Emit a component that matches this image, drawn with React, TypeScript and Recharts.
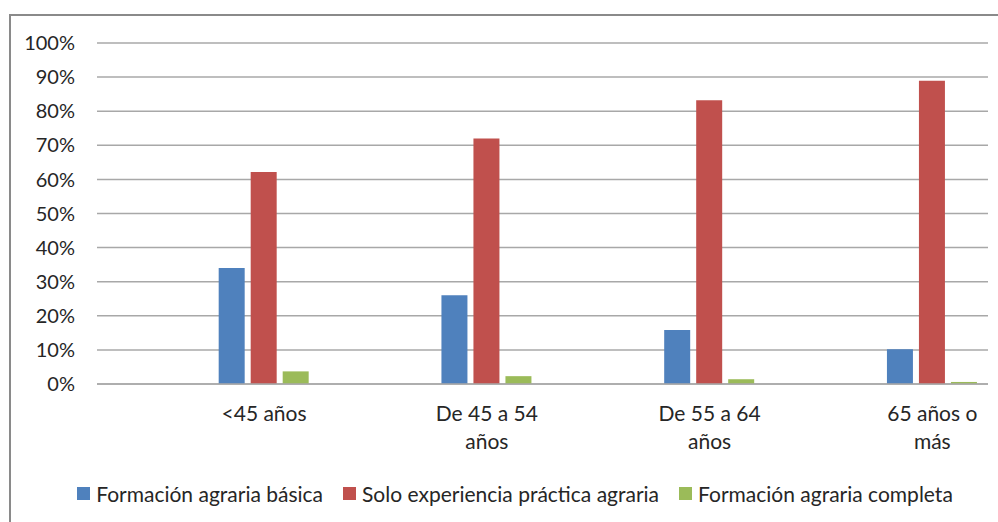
import React from 'react';
import { BarChart, Bar, XAxis, YAxis, CartesianGrid, Legend } from 'recharts';

const categories = ['<45 años', 'De 45 a 54 años', 'De 55 a 64 años', '65 años o más'];
const categoryLines = [['<45 años'], ['De 45 a 54', 'años'], ['De 55 a 64', 'años'], ['65 años o', 'más']];
const basica = [34, 26, 15.8, 10.2];
const solo = [62.2, 72, 83.2, 88.9];
const completa = [3.7, 2.3, 1.4, 0.6];
const yTicks = [0, 10, 20, 30, 40, 50, 60, 70, 80, 90, 100];

const seriesKeys = ['basica', 'solo', 'completa'];
const seriesNames = ['Formación agraria básica', 'Solo experiencia práctica agraria', 'Formación agraria completa'];
const seriesColors = ['#4F81BD', '#C0504D', '#9BBB59'];

const data = categories.map((c, i) => ({
  idx: i,
  cat: c,
  basica: basica[i],
  solo: solo[i],
  completa: completa[i],
}));

const FONT = 'Lato, "Open Sans", sans-serif';
const TEXT_COLOR = '#262626';

const CatTick = (props: any) => {
  const { x, y, payload } = props;
  const lines = categoryLines[payload.value] ?? [];
  return (
    <text
      x={x}
      y={y + 29}
      textAnchor="middle"
      fontSize={21}
      fontFamily={FONT}
      fill={TEXT_COLOR}
    >
      {lines.map((l: string, i: number) => (
        <tspan key={i} x={x} dy={i === 0 ? 0 : 28}>
          {l}
        </tspan>
      ))}
    </text>
  );
};

const LegendContent = () => (
  <div
    style={{
      display: 'flex',
      justifyContent: 'center',
      alignItems: 'center',
      height: 30,
      fontFamily: FONT,
      fontSize: 21,
      color: TEXT_COLOR,
      whiteSpace: 'nowrap',
    }}
  >
    {seriesNames.map((n, i) => (
      <div key={i} style={{ display: 'flex', alignItems: 'center', marginRight: i < seriesNames.length - 1 ? 20 : 0 }}>
        <span style={{ display: 'inline-block', width: 13, height: 13, background: seriesColors[i], marginRight: 6 }} />
        <span>{n}</span>
      </div>
    ))}
  </div>
);

export default function App() {
  return (
    <div
      style={{
        position: 'absolute',
        left: 0,
        top: 0,
        width: 998,
        height: 522,
        overflow: 'hidden',
        background: '#fff',
      }}
    >
      <div
        style={{
          position: 'absolute',
          left: 9,
          top: 14,
          width: 1010,
          height: 530,
          border: '2px solid #8a8a8a',
          boxSizing: 'border-box',
        }}
      />
      <div style={{ position: 'absolute', left: 0, top: 0 }}>
        <BarChart
          width={998}
          height={522}
          data={data}
          margin={{ top: 43, right: 10, left: 7, bottom: 38 }}
          barSize={26}
          barGap={6}
        >
          <CartesianGrid horizontal vertical={false} stroke="#a8a8a8" strokeWidth={1.5} />
          <XAxis
            dataKey="idx"
            type="number"
            domain={[-0.75, 3.25]}
            ticks={[0, 1, 2, 3]}
            interval={0}
            height={70}
            tickLine={false}
            axisLine={{ stroke: '#a8a8a8', strokeWidth: 1.5 }}
            tick={<CatTick />}
          />
          <YAxis
            width={90}
            domain={[0, 100]}
            ticks={yTicks}
            interval={0}
            tickLine={false}
            axisLine={false}
            tickMargin={16}
            tickFormatter={(v: number) => `${v}%`}
            tick={{ fill: TEXT_COLOR, fontSize: 20, fontFamily: FONT }}
          />
          <Legend
            verticalAlign="bottom"
            height={30}
            content={<LegendContent />}
            wrapperStyle={{ left: 16, bottom: 14, width: 998 }}
          />
          {seriesKeys.map((k, i) => (
            <Bar key={k} dataKey={k} name={seriesNames[i]} fill={seriesColors[i]} isAnimationActive={false} />
          ))}
        </BarChart>
      </div>
    </div>
  );
}
